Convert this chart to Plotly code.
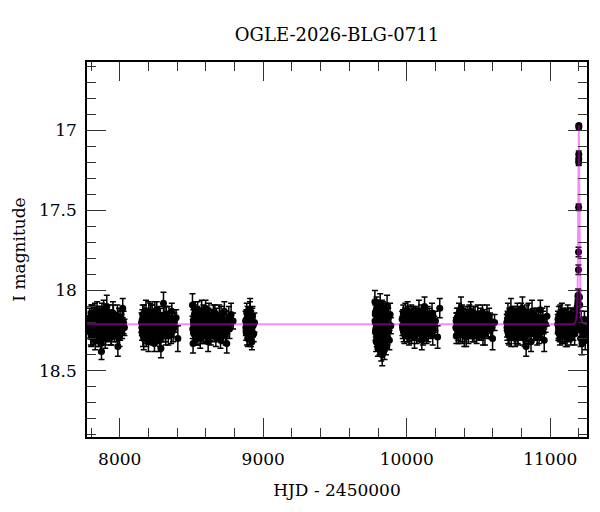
import plotly.graph_objects as go

# ---- photometry, season by season (HJD-2450000, I mag, error) ----
t1 = [7786, 7790, 7793, 7797, 7801, 7805, 7808, 7812, 7816, 7820, 7825, 7829, 7833, 7838, 7842, 7846, 7851, 7855, 7860, 7864, 7869, 7873, 7878, 7883, 7888, 7893, 7899, 7904, 7910, 7916, 7922, 7929, 7935, 7942, 7949, 7956, 7963, 7971, 7979, 7987, 7995, 8003, 8012, 8021, 8033]
m1 = [18.22, 18.17, 18.25, 18.20, 18.29, 18.14, 18.23, 18.19, 18.27, 18.16, 18.21, 18.31, 18.18, 18.24, 18.13, 18.26, 18.20, 18.28, 18.15, 18.22, 18.33, 18.38, 18.19, 18.25, 18.12, 18.23, 18.30, 18.17, 18.10, 18.26, 18.14, 18.24, 18.19, 18.29, 18.22, 18.16, 18.27, 18.20, 18.24, 18.35, 18.18, 18.26, 18.21, 18.11, 18.23]
e1 = [0.05, 0.06, 0.05, 0.07, 0.06, 0.05, 0.06, 0.05, 0.07, 0.06, 0.05, 0.06, 0.07, 0.05, 0.06, 0.05, 0.06, 0.07, 0.05, 0.06, 0.06, 0.05, 0.07, 0.05, 0.06, 0.05, 0.06, 0.07, 0.07, 0.06, 0.05, 0.07, 0.06, 0.05, 0.06, 0.07, 0.05, 0.06, 0.05, 0.06, 0.07, 0.05, 0.06, 0.06, 0.05]
t1b = [7788, 7795, 7799, 7803, 7810, 7814, 7818, 7823, 7827, 7831, 7836, 7840, 7844, 7849, 7853, 7858, 7862, 7867, 7871, 7876, 7881, 7886, 7891, 7896, 7902, 7907, 7913, 7919, 7926, 7932, 7939, 7946, 7953, 7960, 7968, 7976, 7984, 7991, 7999, 8008, 8017, 8027]
m1b = [18.24, 18.19, 18.27, 18.15, 18.21, 18.26, 18.18, 18.23, 18.14, 18.28, 18.20, 18.25, 18.17, 18.22, 18.30, 18.16, 18.24, 18.19, 18.27, 18.13, 18.21, 18.26, 18.18, 18.23, 18.29, 18.15, 18.22, 18.20, 18.25, 18.17, 18.28, 18.21, 18.14, 18.24, 18.19, 18.26, 18.16, 18.22, 18.29, 18.18, 18.24, 18.20]
e1b = [0.06, 0.05, 0.07, 0.06, 0.05, 0.06, 0.07, 0.05, 0.06, 0.05, 0.06, 0.05, 0.07, 0.06, 0.05, 0.06, 0.07, 0.05, 0.06, 0.05, 0.06, 0.05, 0.07, 0.06, 0.05, 0.06, 0.07, 0.05, 0.06, 0.05, 0.06, 0.05, 0.07, 0.06, 0.05, 0.06, 0.07, 0.05, 0.06, 0.05, 0.06, 0.07]

t2 = [8152, 8156, 8160, 8163, 8167, 8171, 8175, 8179, 8183, 8187, 8191, 8196, 8200, 8204, 8209, 8213, 8218, 8222, 8227, 8232, 8237, 8242, 8247, 8252, 8258, 8263, 8269, 8275, 8281, 8287, 8293, 8299, 8305, 8311, 8318, 8325, 8332, 8339, 8347, 8355, 8363, 8372, 8381, 8393, 8405]
m2 = [18.20, 18.26, 18.15, 18.23, 18.30, 18.18, 18.22, 18.27, 18.13, 18.21, 18.25, 18.17, 18.32, 18.19, 18.24, 18.14, 18.28, 18.21, 18.16, 18.26, 18.20, 18.33, 18.18, 18.23, 18.12, 18.27, 18.21, 18.17, 18.29, 18.36, 18.19, 18.24, 18.08, 18.22, 18.26, 18.15, 18.21, 18.28, 18.18, 18.23, 18.13, 18.25, 18.20, 18.17, 18.30]
e2 = [0.06, 0.05, 0.06, 0.05, 0.07, 0.06, 0.05, 0.06, 0.07, 0.05, 0.06, 0.05, 0.06, 0.07, 0.05, 0.06, 0.05, 0.06, 0.07, 0.05, 0.06, 0.05, 0.06, 0.07, 0.05, 0.06, 0.05, 0.07, 0.06, 0.06, 0.05, 0.06, 0.07, 0.05, 0.06, 0.05, 0.07, 0.06, 0.05, 0.06, 0.05, 0.07, 0.06, 0.05, 0.08]
t2b = [8154, 8158, 8162, 8165, 8169, 8173, 8177, 8181, 8185, 8189, 8194, 8198, 8202, 8206, 8211, 8215, 8220, 8225, 8229, 8234, 8240, 8245, 8250, 8255, 8261, 8266, 8272, 8278, 8284, 8290, 8296, 8302, 8308, 8315, 8321, 8328, 8335, 8343, 8351, 8359, 8368, 8377]
m2b = [18.23, 18.18, 18.28, 18.21, 18.15, 18.25, 18.19, 18.24, 18.30, 18.17, 18.22, 18.27, 18.14, 18.21, 18.26, 18.19, 18.23, 18.16, 18.29, 18.21, 18.25, 18.13, 18.22, 18.27, 18.18, 18.24, 18.20, 18.31, 18.16, 18.23, 18.19, 18.26, 18.21, 18.15, 18.28, 18.20, 18.24, 18.17, 18.22, 18.27, 18.19, 18.23]
e2b = [0.05, 0.06, 0.07, 0.05, 0.06, 0.05, 0.06, 0.07, 0.05, 0.06, 0.05, 0.06, 0.07, 0.05, 0.06, 0.05, 0.06, 0.07, 0.05, 0.06, 0.05, 0.06, 0.07, 0.05, 0.06, 0.05, 0.06, 0.07, 0.05, 0.06, 0.05, 0.06, 0.07, 0.05, 0.06, 0.05, 0.06, 0.07, 0.05, 0.06, 0.05, 0.06]

t3 = [8507, 8511, 8515, 8518, 8522, 8526, 8530, 8534, 8538, 8543, 8547, 8552, 8556, 8561, 8566, 8571, 8576, 8581, 8586, 8592, 8598, 8604, 8610, 8616, 8622, 8628, 8635, 8642, 8649, 8656, 8663, 8670, 8678, 8686, 8694, 8702, 8711, 8720, 8729, 8738, 8746, 8755, 8765, 8776, 8790]
m3 = [18.09, 18.33, 18.21, 18.17, 18.26, 18.14, 18.23, 18.19, 18.28, 18.12, 18.22, 18.25, 18.16, 18.30, 18.20, 18.13, 18.24, 18.18, 18.27, 18.21, 18.11, 18.26, 18.19, 18.32, 18.15, 18.22, 18.28, 18.17, 18.24, 18.20, 18.14, 18.29, 18.21, 18.25, 18.16, 18.31, 18.19, 18.23, 18.13, 18.27, 18.33, 18.20, 18.24, 18.15, 18.19]
e3 = [0.07, 0.06, 0.05, 0.06, 0.05, 0.07, 0.06, 0.05, 0.06, 0.05, 0.07, 0.06, 0.05, 0.06, 0.05, 0.07, 0.06, 0.05, 0.06, 0.07, 0.05, 0.06, 0.05, 0.06, 0.07, 0.05, 0.06, 0.05, 0.06, 0.07, 0.05, 0.06, 0.05, 0.06, 0.07, 0.05, 0.06, 0.05, 0.06, 0.07, 0.06, 0.05, 0.06, 0.07, 0.05]
t3b = [8509, 8513, 8516, 8520, 8524, 8528, 8532, 8536, 8540, 8545, 8549, 8554, 8558, 8563, 8568, 8573, 8578, 8583, 8589, 8595, 8601, 8607, 8613, 8619, 8625, 8631, 8638, 8645, 8652, 8659, 8666, 8674, 8682, 8690, 8698, 8706, 8715, 8724, 8733, 8742, 8750, 8760]
m3b = [18.24, 18.19, 18.27, 18.15, 18.22, 18.26, 18.18, 18.23, 18.16, 18.29, 18.21, 18.19, 18.25, 18.17, 18.23, 18.27, 18.20, 18.14, 18.24, 18.18, 18.26, 18.22, 18.28, 18.17, 18.21, 18.25, 18.19, 18.23, 18.15, 18.27, 18.21, 18.18, 18.24, 18.20, 18.26, 18.16, 18.22, 18.28, 18.19, 18.24, 18.21, 18.17]
e3b = [0.06, 0.07, 0.05, 0.06, 0.05, 0.06, 0.07, 0.05, 0.06, 0.05, 0.06, 0.07, 0.05, 0.06, 0.05, 0.06, 0.07, 0.05, 0.06, 0.05, 0.06, 0.07, 0.05, 0.06, 0.05, 0.06, 0.07, 0.05, 0.06, 0.05, 0.06, 0.07, 0.05, 0.06, 0.05, 0.06, 0.07, 0.05, 0.06, 0.05, 0.06, 0.07]

t4 = [8877, 8881, 8885, 8889, 8893, 8897, 8901, 8905, 8909, 8913, 8917, 8921, 8925, 8929, 8934, 8939]
m4 = [18.19, 18.26, 18.14, 18.23, 18.30, 18.17, 18.21, 18.28, 18.12, 18.24, 18.19, 18.32, 18.16, 18.22, 18.27, 18.20]
e4 = [0.06, 0.05, 0.06, 0.07, 0.05, 0.06, 0.05, 0.06, 0.07, 0.05, 0.06, 0.05, 0.06, 0.07, 0.05, 0.06]
t4b = [8879, 8883, 8887, 8891, 8895, 8899, 8903, 8907, 8911, 8915, 8919, 8923]
m4b = [18.23, 18.18, 18.27, 18.15, 18.22, 18.25, 18.19, 18.14, 18.24, 18.29, 18.21, 18.17]
e4b = [0.05, 0.06, 0.07, 0.05, 0.06, 0.05, 0.06, 0.07, 0.05, 0.06, 0.05, 0.06]

t5 = [9778, 9781, 9784, 9787, 9790, 9793, 9796, 9799, 9802, 9806, 9809, 9812, 9815, 9819, 9822, 9826, 9829, 9832, 9836, 9840, 9843, 9847, 9851, 9855, 9859, 9863, 9867, 9871, 9875, 9879, 9884, 9889]
m5 = [18.07, 18.15, 18.24, 18.32, 18.11, 18.20, 18.28, 18.36, 18.13, 18.22, 18.18, 18.30, 18.09, 18.26, 18.38, 18.16, 18.40, 18.23, 18.12, 18.33, 18.19, 18.27, 18.14, 18.35, 18.21, 18.10, 18.29, 18.17, 18.25, 18.31, 18.15, 18.22]
e5 = [0.07, 0.06, 0.05, 0.06, 0.07, 0.05, 0.06, 0.05, 0.06, 0.07, 0.05, 0.06, 0.07, 0.05, 0.06, 0.05, 0.07, 0.06, 0.05, 0.06, 0.07, 0.05, 0.06, 0.05, 0.06, 0.07, 0.05, 0.06, 0.05, 0.06, 0.07, 0.05]
t5b = [9779, 9782, 9785, 9788, 9791, 9794, 9797, 9800, 9804, 9807, 9810, 9813, 9817, 9820, 9824, 9827, 9830, 9834, 9838, 9841, 9845, 9849, 9853, 9857, 9861]
m5b = [18.19, 18.26, 18.13, 18.22, 18.30, 18.17, 18.24, 18.11, 18.28, 18.20, 18.34, 18.15, 18.23, 18.19, 18.27, 18.12, 18.31, 18.21, 18.16, 18.25, 18.37, 18.18, 18.23, 18.14, 18.29]
e5b = [0.06, 0.05, 0.07, 0.06, 0.05, 0.06, 0.07, 0.05, 0.06, 0.05, 0.06, 0.07, 0.05, 0.06, 0.05, 0.06, 0.07, 0.05, 0.06, 0.05, 0.06, 0.07, 0.05, 0.06, 0.05]

t6 = [9968, 9972, 9976, 9980, 9984, 9988, 9993, 9997, 10002, 10006, 10011, 10016, 10021, 10026, 10031, 10037, 10042, 10048, 10054, 10060, 10066, 10072, 10078, 10085, 10091, 10098, 10105, 10111, 10118, 10124, 10131, 10138, 10146, 10154, 10162, 10171, 10181, 10192, 10215, 10230]
m6 = [18.18, 18.24, 18.14, 18.21, 18.27, 18.16, 18.22, 18.19, 18.25, 18.13, 18.20, 18.28, 18.17, 18.23, 18.15, 18.26, 18.19, 18.22, 18.29, 18.16, 18.21, 18.24, 18.18, 18.13, 18.26, 18.20, 18.31, 18.17, 18.23, 18.10, 18.22, 18.27, 18.15, 18.20, 18.24, 18.18, 18.28, 18.21, 18.29, 18.11]
e6 = [0.05, 0.06, 0.05, 0.07, 0.06, 0.05, 0.06, 0.05, 0.07, 0.06, 0.05, 0.06, 0.05, 0.07, 0.06, 0.05, 0.06, 0.05, 0.07, 0.06, 0.05, 0.06, 0.05, 0.07, 0.06, 0.05, 0.06, 0.05, 0.07, 0.06, 0.05, 0.06, 0.05, 0.07, 0.06, 0.05, 0.06, 0.05, 0.07, 0.06]
t6b = [9970, 9974, 9978, 9982, 9986, 9990, 9995, 9999, 10004, 10008, 10013, 10018, 10023, 10028, 10034, 10039, 10045, 10051, 10057, 10063, 10069, 10075, 10081, 10088, 10094, 10101, 10108, 10114, 10121, 10128, 10134, 10142, 10150, 10158, 10166, 10176, 10186, 10200]
m6b = [18.22, 18.17, 18.26, 18.19, 18.23, 18.14, 18.25, 18.21, 18.18, 18.27, 18.16, 18.22, 18.24, 18.19, 18.28, 18.21, 18.15, 18.25, 18.18, 18.23, 18.27, 18.16, 18.21, 18.24, 18.19, 18.15, 18.23, 18.28, 18.20, 18.17, 18.25, 18.21, 18.26, 18.18, 18.22, 18.14, 18.24, 18.19]
e6b = [0.06, 0.05, 0.06, 0.07, 0.05, 0.06, 0.05, 0.06, 0.07, 0.05, 0.06, 0.05, 0.06, 0.07, 0.05, 0.06, 0.05, 0.06, 0.07, 0.05, 0.06, 0.05, 0.06, 0.07, 0.05, 0.06, 0.05, 0.06, 0.07, 0.05, 0.06, 0.05, 0.06, 0.07, 0.05, 0.06, 0.05, 0.06]

t7 = [10342, 10346, 10350, 10355, 10359, 10364, 10368, 10373, 10378, 10383, 10388, 10393, 10398, 10404, 10409, 10415, 10421, 10427, 10433, 10439, 10446, 10452, 10459, 10466, 10473, 10480, 10487, 10495, 10503, 10511, 10519, 10527, 10536, 10545, 10554, 10564, 10574, 10586, 10598, 10612]
m7 = [18.23, 18.28, 18.17, 18.21, 18.26, 18.14, 18.24, 18.19, 18.11, 18.22, 18.27, 18.16, 18.20, 18.25, 18.18, 18.29, 18.15, 18.22, 18.19, 18.24, 18.13, 18.21, 18.26, 18.17, 18.23, 18.20, 18.28, 18.15, 18.22, 18.18, 18.25, 18.14, 18.21, 18.27, 18.19, 18.23, 18.16, 18.24, 18.30, 18.20]
e7 = [0.06, 0.05, 0.06, 0.07, 0.05, 0.06, 0.05, 0.06, 0.07, 0.05, 0.06, 0.05, 0.06, 0.07, 0.05, 0.06, 0.05, 0.06, 0.07, 0.05, 0.06, 0.05, 0.06, 0.07, 0.05, 0.06, 0.05, 0.06, 0.07, 0.05, 0.06, 0.05, 0.06, 0.07, 0.05, 0.06, 0.05, 0.06, 0.07, 0.05]
t7b = [10344, 10348, 10352, 10357, 10361, 10366, 10370, 10375, 10380, 10385, 10390, 10395, 10401, 10406, 10412, 10418, 10424, 10430, 10436, 10442, 10449, 10455, 10462, 10469, 10476, 10483, 10491, 10499, 10507, 10515, 10523, 10531, 10540, 10549, 10559, 10569, 10580, 10592]
m7b = [18.19, 18.24, 18.21, 18.16, 18.27, 18.20, 18.18, 18.25, 18.22, 18.15, 18.23, 18.19, 18.28, 18.21, 18.24, 18.17, 18.22, 18.26, 18.14, 18.20, 18.25, 18.18, 18.23, 18.27, 18.16, 18.22, 18.19, 18.24, 18.26, 18.17, 18.21, 18.28, 18.19, 18.23, 18.15, 18.25, 18.20, 18.22]
e7b = [0.05, 0.06, 0.07, 0.05, 0.06, 0.05, 0.06, 0.07, 0.05, 0.06, 0.05, 0.06, 0.07, 0.05, 0.06, 0.05, 0.06, 0.07, 0.05, 0.06, 0.05, 0.06, 0.07, 0.05, 0.06, 0.05, 0.06, 0.07, 0.05, 0.06, 0.05, 0.06, 0.07, 0.05, 0.06, 0.05, 0.06, 0.07]

t8 = [10697, 10701, 10705, 10709, 10713, 10717, 10722, 10726, 10731, 10735, 10740, 10745, 10750, 10755, 10760, 10765, 10771, 10776, 10782, 10788, 10794, 10800, 10806, 10812, 10818, 10825, 10832, 10838, 10845, 10852, 10859, 10866, 10873, 10881, 10889, 10897, 10905, 10913, 10922, 10931, 10940, 10949, 10958, 10967, 10977]
m8 = [18.20, 18.25, 18.15, 18.22, 18.28, 18.17, 18.23, 18.12, 18.26, 18.19, 18.24, 18.16, 18.21, 18.30, 18.18, 18.23, 18.14, 18.27, 18.20, 18.25, 18.17, 18.22, 18.11, 18.29, 18.19, 18.24, 18.35, 18.16, 18.21, 18.27, 18.18, 18.32, 18.13, 18.23, 18.20, 18.26, 18.17, 18.22, 18.28, 18.12, 18.24, 18.19, 18.31, 18.21, 18.16]
e8 = [0.05, 0.06, 0.07, 0.05, 0.06, 0.05, 0.06, 0.07, 0.05, 0.06, 0.05, 0.06, 0.07, 0.05, 0.06, 0.05, 0.06, 0.07, 0.05, 0.06, 0.05, 0.06, 0.07, 0.05, 0.06, 0.05, 0.06, 0.07, 0.05, 0.06, 0.05, 0.06, 0.07, 0.05, 0.06, 0.05, 0.06, 0.07, 0.05, 0.06, 0.05, 0.06, 0.07, 0.05, 0.06]
t8b = [10699, 10703, 10707, 10711, 10715, 10719, 10724, 10728, 10733, 10737, 10742, 10747, 10752, 10757, 10762, 10768, 10773, 10779, 10785, 10791, 10797, 10803, 10809, 10815, 10821, 10828, 10835, 10841, 10848, 10855, 10862, 10869, 10877, 10885, 10893, 10901, 10909, 10917, 10926, 10935, 10944, 10953]
m8b = [18.23, 18.18, 18.27, 18.21, 18.16, 18.24, 18.19, 18.29, 18.22, 18.15, 18.25, 18.20, 18.17, 18.26, 18.22, 18.19, 18.28, 18.16, 18.23, 18.21, 18.14, 18.25, 18.19, 18.24, 18.30, 18.18, 18.22, 18.26, 18.15, 18.23, 18.20, 18.27, 18.18, 18.24, 18.16, 18.21, 18.29, 18.19, 18.23, 18.26, 18.17, 18.22]
e8b = [0.06, 0.05, 0.06, 0.07, 0.05, 0.06, 0.05, 0.06, 0.07, 0.05, 0.06, 0.05, 0.06, 0.07, 0.05, 0.06, 0.05, 0.06, 0.07, 0.05, 0.06, 0.05, 0.06, 0.07, 0.05, 0.06, 0.05, 0.06, 0.07, 0.05, 0.06, 0.05, 0.06, 0.07, 0.05, 0.06, 0.05, 0.06, 0.07, 0.05, 0.06, 0.05]

t9 = [11052, 11056, 11060, 11064, 11068, 11072, 11077, 11081, 11086, 11091, 11096, 11101, 11106, 11111, 11117, 11122, 11128, 11134, 11140, 11146, 11152, 11158, 11164, 11170, 11176, 11181, 11185, 11189, 11192,
      11193.0, 11194.5, 11196.2, 11196.8, 11197.6, 11198.3, 11198.5, 11198.7, 11199.0, 11199.2, 11203.5, 11205.0,
      11208, 11212, 11216, 11221, 11226, 11232, 11238, 11244, 11250]
m9 = [18.21, 18.26, 18.16, 18.23, 18.29, 18.18, 18.22, 18.14, 18.25, 18.20, 18.27, 18.17, 18.23, 18.19, 18.30, 18.15, 18.22, 18.26, 18.18, 18.21, 18.24, 18.16, 18.20, 18.27, 18.22, 18.18, 18.15, 18.10, 18.08,
      18.06, 18.03, 17.87, 17.76, 17.48, 17.20, 17.18, 17.15, 16.97, 16.98, 18.04, 18.09,
      18.24, 18.30, 18.19, 18.33, 18.22, 18.27, 18.18, 18.31, 18.24]
e9 = [0.06, 0.05, 0.06, 0.07, 0.05, 0.06, 0.05, 0.06, 0.07, 0.05, 0.06, 0.05, 0.06, 0.07, 0.05, 0.06, 0.05, 0.06, 0.07, 0.05, 0.06, 0.05, 0.06, 0.07, 0.05, 0.06, 0.05, 0.06, 0.05,
      0.04, 0.04, 0.03, 0.03, 0.02, 0.02, 0.02, 0.02, 0.01, 0.01, 0.04, 0.04,
      0.06, 0.05, 0.06, 0.07, 0.05, 0.06, 0.05, 0.06, 0.07]
t9b = [11054, 11058, 11062, 11066, 11070, 11075, 11079, 11083, 11088, 11093, 11098, 11103, 11108, 11114, 11120, 11125, 11131, 11137, 11143, 11149, 11155, 11161, 11167, 11173, 11179]
m9b = [18.18, 18.24, 18.21, 18.27, 18.15, 18.23, 18.19, 18.26, 18.22, 18.17, 18.24, 18.20, 18.28, 18.16, 18.22, 18.25, 18.19, 18.23, 18.29, 18.17, 18.21, 18.25, 18.19, 18.23, 18.20]
e9b = [0.05, 0.06, 0.07, 0.05, 0.06, 0.05, 0.06, 0.07, 0.05, 0.06, 0.05, 0.06, 0.07, 0.05, 0.06, 0.05, 0.06, 0.07, 0.05, 0.06, 0.05, 0.06, 0.07, 0.05, 0.06]

# ---- microlensing model curve ----
model_t = [7772, 11160, 11167, 11175, 11183, 11187, 11191, 11193, 11195, 11196.6, 11197.4, 11198.2, 11199,
           11199.8, 11200.6, 11201.4, 11203, 11205, 11207, 11211, 11215, 11223, 11231, 11256]
model_m = [18.21, 18.21, 18.205, 18.20, 18.165, 18.12, 17.98, 17.80, 17.55, 17.27, 17.12, 17.02, 16.97,
           17.02, 17.12, 17.27, 17.55, 17.80, 17.98, 18.12, 18.165, 18.20, 18.205, 18.21]

seasons = [(t1, m1, e1), (t1b, m1b, e1b), (t2, m2, e2), (t2b, m2b, e2b), (t3, m3, e3), (t3b, m3b, e3b),
           (t4, m4, e4), (t4b, m4b, e4b), (t5, m5, e5), (t5b, m5b, e5b), (t6, m6, e6), (t6b, m6b, e6b),
           (t7, m7, e7), (t7b, m7b, e7b), (t8, m8, e8), (t8b, m8b, e8b), (t9, m9, e9), (t9b, m9b, e9b)]
hjd, mag, err = [], [], []
for t, m, e in seasons:
    assert len(t) == len(m) == len(e), (len(t), len(m), len(e))
    hjd += t
    mag += m
    err += e
assert len(model_t) == len(model_m)

FONT = "DejaVu Serif"
# page body has an 8px default margin; figure coordinates are offset accordingly
fig = go.Figure()
fig.add_trace(go.Scatter(
    x=hjd, y=mag, mode="markers",
    marker=dict(color="black", size=7),
    error_y=dict(type="data", array=err, color="black", thickness=1.5, width=3),
    showlegend=False, hoverinfo="skip"))
fig.add_trace(go.Scatter(
    x=model_t, y=model_m, mode="lines",
    line=dict(color="rgba(240,0,240,0.45)", width=2),
    showlegend=False, hoverinfo="skip"))

axis_common = dict(
    showline=True, linecolor="black", linewidth=1.5, mirror="allticks",
    ticks="inside", ticklen=19, tickwidth=1, tickcolor="#333",
    showgrid=False, zeroline=False, automargin=False,
    tickfont=dict(family=FONT, size=17, color="black"),
)

fig.update_xaxes(
    range=[7772, 11256], tick0=0, dtick=1000, tickformat="d",
    minor=dict(ticks="inside", dtick=200, ticklen=9, tickcolor="#333", tickwidth=1, showgrid=False),
    title=dict(text="HJD - 2450000", font=dict(family=FONT, size=17, color="black"), standoff=16),
    ticklabelstandoff=6,
    **axis_common)
fig.update_yaxes(
    range=[18.914, 16.574], tick0=0, dtick=0.5,
    minor=dict(ticks="inside", dtick=0.1, ticklen=9, tickcolor="#333", tickwidth=1, showgrid=False),
    title=dict(text="I magnitude", font=dict(family=FONT, size=17, color="black"), standoff=9),
    ticklabelstandoff=5,
    **axis_common)

fig.update_layout(
    width=584, height=496,
    margin=dict(l=79, r=5, t=54, b=67),
    paper_bgcolor="white", plot_bgcolor="white",
    title=dict(text="OGLE-2026-BLG-0711", x=0.5, xref="paper", y=1 - 27 / 496, yref="container",
               yanchor="middle", font=dict(family=FONT, size=18, color="black")),
    font=dict(family=FONT, color="black"),
)

fig.write_html("out.html")
